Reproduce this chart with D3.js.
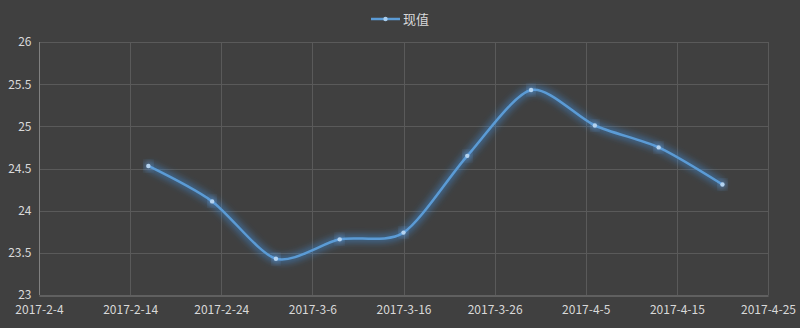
<!DOCTYPE html>
<html>
<head>
<meta charset="utf-8">
<script src="https://cdn.jsdelivr.net/npm/d3@7"></script>
<style>
  body { margin: 0; background: #404040; }
  svg text { font-family: "Noto Sans CJK SC", "Microsoft YaHei", sans-serif; }
</style>
</head>
<body>
<div id="chart"></div>
<script>
var dates = ["2017-2-16", "2017-2-23", "2017-3-2", "2017-3-9", "2017-3-16",
             "2017-3-23", "2017-3-30", "2017-4-6", "2017-4-13", "2017-4-20"];
var values = [24.53, 24.11, 23.43, 23.66, 23.74, 24.65, 25.43, 25.01, 24.75, 24.31];
var seriesName = "现值";
var xTicks = ["2017-2-4", "2017-2-14", "2017-2-24", "2017-3-6", "2017-3-16",
              "2017-3-26", "2017-4-5", "2017-4-15", "2017-4-25"];
var yTicks = [23, 23.5, 24, 24.5, 25, 25.5, 26];

var W = 800, H = 328;
var margin = {top: 42, right: 32, bottom: 33, left: 39},
  width = W - margin.left - margin.right,
  height = H - margin.top - margin.bottom;

var parse = d3.timeParse("%Y-%-m-%-d");
var fmt = function(d) { return d.getFullYear() + "-" + (d.getMonth() + 1) + "-" + d.getDate(); };
var data = dates.map(function(d, i) { return {date: parse(d), value: values[i]}; });

var svg = d3.select("#chart")
  .append("svg")
  .attr("width", W)
  .attr("height", H);

svg.append("rect").attr("width", W).attr("height", H).attr("fill", "#404040");

// soft glow around the series
var defs = svg.append("defs");
var glow = defs.append("filter").attr("id", "glow")
  .attr("x", "-10%").attr("y", "-30%").attr("width", "120%").attr("height", "160%");
glow.append("feGaussianBlur").attr("in", "SourceGraphic").attr("stdDeviation", 3.5);

var g = svg.append("g")
  .attr("transform", "translate(" + margin.left + "," + margin.top + ")");

var x = d3.scaleTime()
  .domain([parse(xTicks[0]), parse(xTicks[xTicks.length - 1])])
  .range([0, width]);

var y = d3.scaleLinear()
  .domain([23, 26])
  .range([height, 0]);

// grid
g.append("g")
  .selectAll("line.h")
  .data(yTicks.slice(1))
  .enter().append("line")
  .attr("x1", 0).attr("x2", width)
  .attr("y1", function(d) { return Math.round(y(d)) + 0.5; })
  .attr("y2", function(d) { return Math.round(y(d)) + 0.5; })
  .attr("stroke", "#5a5a5a");

g.append("g")
  .selectAll("line.v")
  .data(xTicks.slice(1))
  .enter().append("line")
  .attr("x1", function(d) { return Math.round(x(parse(d))) + 0.5; })
  .attr("x2", function(d) { return Math.round(x(parse(d))) + 0.5; })
  .attr("y1", 0).attr("y2", height)
  .attr("stroke", "#5a5a5a");

// axes
var xAxis = g.append("g")
  .attr("transform", "translate(0," + (height + 0.5) + ")")
  .call(d3.axisBottom(x).tickValues(xTicks.map(parse)).tickFormat(fmt).tickSize(0).tickPadding(10));
var yAxis = g.append("g")
  .attr("transform", "translate(0.5,0)")
  .call(d3.axisLeft(y).tickValues(yTicks).tickFormat(d3.format("")).tickSize(0).tickPadding(8));

[xAxis, yAxis].forEach(function(a) {
  a.select(".domain").attr("stroke", "#808080");
  a.selectAll("text").attr("fill", "#d9d9d9").style("font-size", "12px");
});
yAxis.select(".domain").attr("d", "M0," + height + "V0");

// line
var line = d3.line()
  .x(function(d) { return x(d.date); })
  .y(function(d) { return y(d.value); })
  .curve(d3.curveCardinal.tension(0.2));

g.append("path")
  .datum(data)
  .attr("d", line)
  .attr("fill", "none")
  .attr("stroke", "#3f8fe0")
  .attr("stroke-width", 7)
  .attr("stroke-opacity", 0.55)
  .attr("filter", "url(#glow)");

g.append("path")
  .datum(data)
  .attr("d", line)
  .attr("fill", "none")
  .attr("stroke", "#5b9bd5")
  .attr("stroke-width", 2.5);

g.selectAll("circle.halo")
  .data(data)
  .enter().append("circle")
  .attr("cx", function(d) { return x(d.date); })
  .attr("cy", function(d) { return y(d.value); })
  .attr("r", 4)
  .attr("fill", "#6aaaf0")
  .attr("opacity", 0.6)
  .attr("filter", "url(#glow)");

g.selectAll("circle.pt")
  .data(data)
  .enter().append("circle")
  .attr("cx", function(d) { return x(d.date); })
  .attr("cy", function(d) { return y(d.value); })
  .attr("r", 2.2)
  .attr("fill", "#b4d3f0");

// legend
var lg = svg.append("g").attr("transform", "translate(371,19)");
lg.append("line").attr("x1", 0).attr("x2", 29).attr("y1", 0).attr("y2", 0)
  .attr("stroke", "#5b9bd5").attr("stroke-width", 2.5);
lg.append("circle").attr("cx", 14.5).attr("cy", 0).attr("r", 2.2).attr("fill", "#a9cdee");
lg.append("text").attr("x", 32).attr("y", 0).attr("dy", "0.35em")
  .attr("fill", "#d9d9d9").style("font-size", "13px").text(seriesName);
</script>
</body>
</html>
